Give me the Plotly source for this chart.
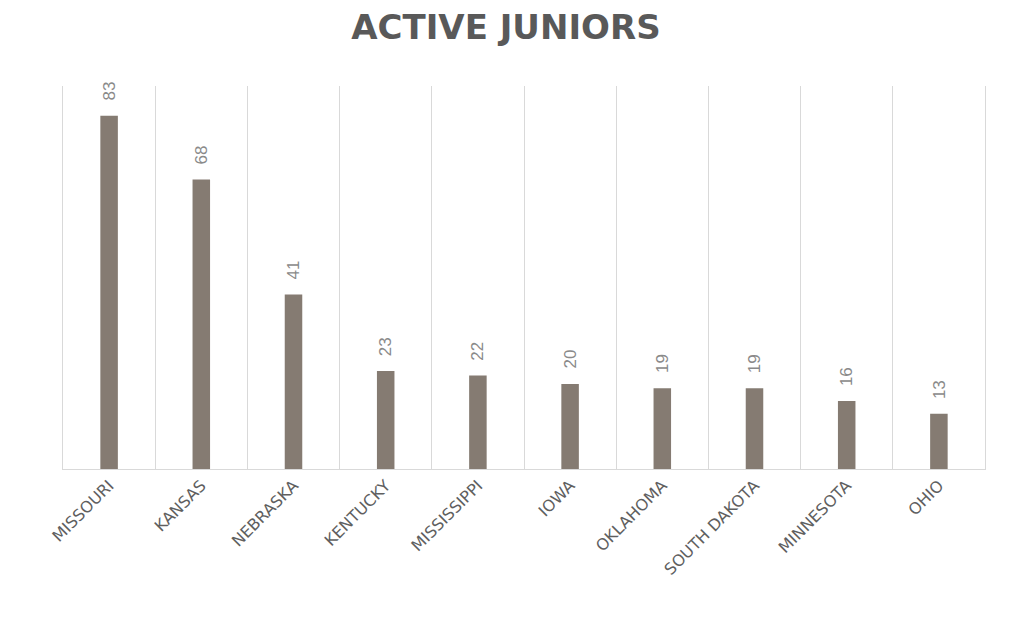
import plotly.graph_objects as go

states = ["MISSOURI", "KANSAS", "NEBRASKA", "KENTUCKY", "MISSISSIPPI", "IOWA",
          "OKLAHOMA", "SOUTH DAKOTA", "MINNESOTA", "OHIO"]
juniors = [83, 68, 41, 23, 22, 20, 19, 19, 16, 13]

fig = go.Figure(go.Bar(
    x=states, y=juniors,
    marker=dict(color="#857b72", line=dict(width=0)),
    width=0.19,
    cliponaxis=False,
    hoverinfo="x+y",
))

for s, v in zip(states, juniors):
    fig.add_annotation(
        x=s, y=v, xref="x", yref="y", text=str(v), showarrow=False,
        textangle=-90, xanchor="center", yanchor="bottom", yshift=13,
        font=dict(family="Liberation Sans, Arial", size=17, color="#8a8a8a"),
    )

fig.update_layout(
    width=1010, height=644,
    margin=dict(l=55, r=33, t=78, b=183),
    paper_bgcolor="white", plot_bgcolor="white",
    title=dict(text="<b>ACTIVE JUNIORS</b>", x=0.493, xanchor="center", y=0.9705, yanchor="middle",
               font=dict(family="DejaVu Sans", size=34, color="#595959")),
    showlegend=False,
    xaxis=dict(
        type="category", tickson="boundaries", showgrid=True, gridcolor="#d9d9d9", gridwidth=1,
        showline=True, linecolor="#d9d9d9", linewidth=1, mirror=False,
        ticks="", tickangle=-45,
        tickfont=dict(family="DejaVu Sans", size=16, color="#5f5f5f"),
    ),
    yaxis=dict(range=[0, 90], showgrid=False, showticklabels=False, zeroline=False,
               showline=True, linecolor="#d9d9d9", linewidth=1, mirror=True),
)

fig.write_html("out.html")
